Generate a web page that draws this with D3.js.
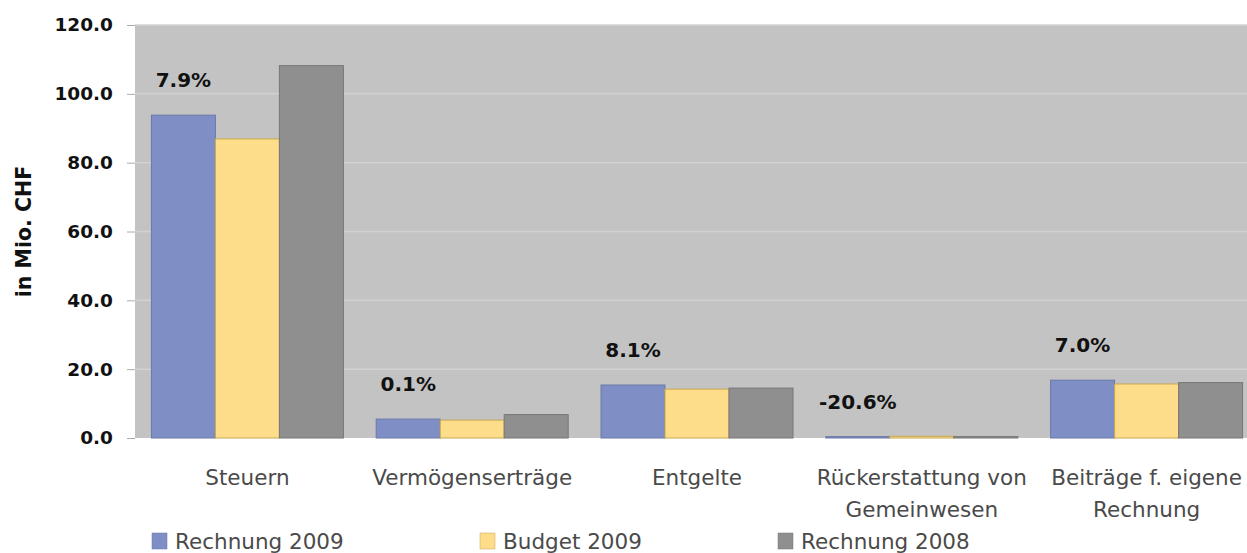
<!DOCTYPE html>
<html>
<head>
<meta charset="utf-8">
<script src="https://cdn.jsdelivr.net/npm/d3@7"></script>
<style>
  body { margin: 0; background: #fff; }
  svg { display: block; font-family: "DejaVu Sans", "Liberation Sans", Arial, sans-serif; }
</style>
</head>
<body>
<div id="plot"></div>
<script>
"use strict";

const categories = ["Steuern", "Vermögenserträge", "Entgelte", "Rückerstattung von Gemeinwesen", "Beiträge f. eigene Rechnung"];
const categoryLines = [["Steuern"], ["Vermögenserträge"], ["Entgelte"], ["Rückerstattung von", "Gemeinwesen"], ["Beiträge f. eigene", "Rechnung"]];
const seriesNames = ["Rechnung 2009", "Budget 2009", "Rechnung 2008"];
const rechnung2009 = [93.8, 5.5, 15.4, 0.4, 16.8];
const budget2009 = [86.9, 5.2, 14.2, 0.5, 15.7];
const rechnung2008 = [108.2, 6.8, 14.5, 0.4, 16.1];
const changeLabels = ["7.9%", "0.1%", "8.1%", "-20.6%", "7.0%"];
const yTicks = [0, 20, 40, 60, 80, 100, 120];

// the plot area runs a little past the right edge of the picture
const msm = {
    width: 1247,
    height: 553,
    left: 135,
    right: 1259,
    top: 25,
    bottom: 438
}

const colors = ["#7f8fc6", "#fddc8a", "#8f8f8f"];
const strokes = ["#6a78a8", "#c8a850", "#777777"];

const svg = d3.select("#plot")
    .append("svg")
    .attr("width", msm.width)
    .attr("height", msm.height);

const allSeries = [rechnung2009, budget2009, rechnung2008];

const x0 = d3.scaleBand()
    .domain(categories)
    .range([msm.left, msm.right])
    .paddingInner(0.146)
    .paddingOuter(0.073);

const x1 = d3.scaleBand()
    .domain([0, 1, 2])
    .range([0, x0.bandwidth()]);

const y = d3.scaleLinear()
    .domain([0, 120])
    .range([msm.bottom, msm.top]);

// plot background
svg.append("rect")
    .attr("x", msm.left)
    .attr("y", msm.top)
    .attr("width", msm.right - msm.left)
    .attr("height", msm.bottom - msm.top)
    .attr("fill", "#c3c3c3");

// gridlines
svg.append("g")
    .selectAll("line")
    .data(yTicks.filter(d => d > 0))
    .enter()
    .append("line")
    .attr("x1", msm.left)
    .attr("x2", msm.right)
    .attr("y1", d => y(d))
    .attr("y2", d => y(d))
    .attr("stroke", "#d2d2d2")
    .attr("stroke-width", 1.5);

// y axis
const yAxis = d3.axisLeft(y)
    .tickValues(yTicks)
    .tickFormat(d3.format(".1f"))
    .tickSize(8)
    .tickPadding(14);
const yg = svg.append("g")
    .attr("transform", "translate(" + msm.left + ",0)")
    .call(yAxis);
yg.select(".domain").remove();
yg.selectAll(".tick line").attr("stroke", "#aaaaaa");
yg.selectAll(".tick text")
    .attr("fill", "#111")
    .style("font-family", "'DejaVu Sans'")
    .style("font-size", "18.5px")
    .style("font-weight", "bold");

svg.append("text")
    .attr("transform", "translate(31," + ((msm.top + msm.bottom) / 2) + ") rotate(-90)")
    .attr("text-anchor", "middle")
    .style("font-size", "20.5px")
    .style("font-weight", "bold")
    .attr("fill", "#111")
    .text("in Mio. CHF");

// bars
allSeries.forEach((series, s) => {
    svg.append("g")
        .selectAll("rect")
        .data(series)
        .enter()
        .append("rect")
        .attr("x", (d, i) => x0(categories[i]) + x1(s))
        .attr("y", d => y(d))
        .attr("width", x1.bandwidth())
        .attr("height", d => y(0) - y(d))
        .attr("fill", colors[s])
        .attr("stroke", strokes[s])
        .attr("stroke-width", 1);
});

// change labels above first bar
svg.append("g")
    .selectAll("text")
    .data(changeLabels)
    .enter()
    .append("text")
    .attr("x", (d, i) => x0(categories[i]) + x1(0) + x1.bandwidth() / 2)
    .attr("y", (d, i) => y(rechnung2009[i]) - 28)
    .attr("text-anchor", "middle")
    .style("font-size", "20px")
    .style("font-weight", "bold")
    .attr("fill", "#111")
    .text(d => d);

// category labels
const catG = svg.append("g");
categoryLines.forEach((lines, i) => {
    const t = catG.append("text")
        .attr("x", x0(categories[i]) + x0.bandwidth() / 2)
        .attr("y", 485)
        .attr("text-anchor", "middle")
        .style("font-size", "21.5px")
        .attr("fill", "#4a4a4a");
    lines.forEach((line, j) => {
        t.append("tspan")
            .attr("x", x0(categories[i]) + x0.bandwidth() / 2)
            .attr("dy", j === 0 ? 0 : 32)
            .text(line);
    });
});

// legend
const legendX = d3.scaleOrdinal()
    .domain(seriesNames)
    .range([152, 480, 778]);
const legend = svg.append("g")
    .selectAll("g")
    .data(seriesNames)
    .enter()
    .append("g")
    .attr("transform", d => "translate(" + legendX(d) + ",533)");
legend.append("rect")
    .attr("width", 15)
    .attr("height", 16)
    .attr("fill", (d, i) => colors[i])
    .attr("stroke", (d, i) => strokes[i])
    .attr("stroke-width", 0.5);
legend.append("text")
    .attr("x", 23)
    .attr("y", 16)
    .style("font-size", "21.5px")
    .attr("fill", "#4a4a4a")
    .text(d => d);
</script>
</body>
</html>
